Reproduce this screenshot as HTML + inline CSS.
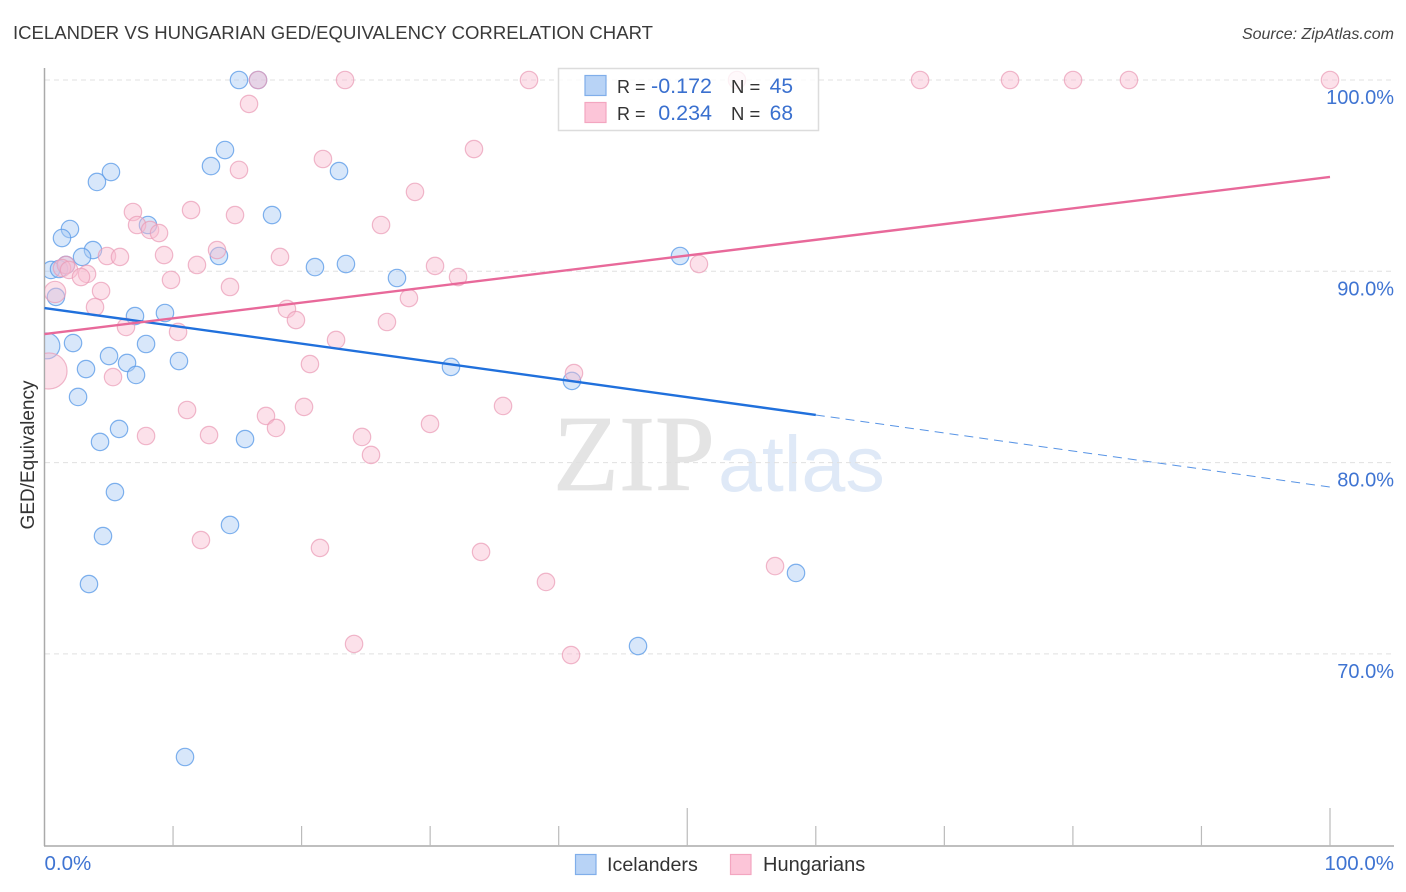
<!DOCTYPE html>
<html lang="en">
<head>
<meta charset="utf-8">
<title>Icelander vs Hungarian GED/Equivalency Correlation Chart</title>
<style>
html,body{margin:0;padding:0;background:#fff;}
#chart{display:block;width:1406px;height:892px;font-family:"Liberation Sans",sans-serif;}
</style>
</head>
<body>
<svg id="chart" xmlns="http://www.w3.org/2000/svg" width="1406" height="892" viewBox="0 0 1406 892">
  <defs><clipPath id="plot-clip"><rect x="45" y="60" width="1349" height="786"/></clipPath></defs>
  <text x="13" y="39" font-size="18.5" fill="#3a3a3a" textLength="640" lengthAdjust="spacingAndGlyphs">ICELANDER VS HUNGARIAN GED/EQUIVALENCY CORRELATION CHART</text>
  <text x="1394" y="39" font-size="16" font-style="italic" fill="#444" text-anchor="end">Source: ZipAtlas.com</text>

  <g>
    <text x="553" y="490" font-family="'Liberation Serif',serif" font-size="108" fill="#e4e4e4" stroke="#e4e4e4" stroke-width="0.8">ZIP</text>
    <text x="718" y="491" font-family="'Liberation Sans',sans-serif" font-size="79" fill="#dfe9f7">atlas</text>
  </g>

  <g id="grid"></g>
  <g id="axes"></g>
  <g id="points" clip-path="url(#plot-clip)"></g>
  <g id="trends"></g>
  <g id="labels"></g>

  <text transform="translate(34,455) rotate(-90)" font-size="19" fill="#333" text-anchor="middle">GED/Equivalency</text>

  <g>
    <rect x="558.5" y="68.5" width="260" height="62" fill="#fff" fill-opacity="0.8" stroke="#dcdcdc" stroke-width="1.5"/>
    <rect x="585" y="75.5" width="21" height="20" fill="#b8d3f6" stroke="#80aeea" stroke-width="1.2"/>
    <rect x="585" y="102.5" width="21" height="20" fill="#fcc5d8" stroke="#f3a6c0" stroke-width="1.2"/>
    <text x="617" y="93" font-size="18" fill="#333">R =</text>
    <text x="712" y="93" font-size="21.5" fill="#3a70cf" text-anchor="end">-0.172</text>
    <text x="731" y="93" font-size="18.5" fill="#333">N =</text>
    <text x="793" y="93" font-size="21" fill="#3a70cf" text-anchor="end">45</text>
    <text x="617" y="120" font-size="18" fill="#333">R =</text>
    <text x="712" y="120" font-size="21.5" fill="#3a70cf" text-anchor="end">0.234</text>
    <text x="731" y="120" font-size="18.5" fill="#333">N =</text>
    <text x="793" y="120" font-size="21" fill="#3a70cf" text-anchor="end">68</text>
  </g>

  <g>
    <g>
      <rect x="575.5" y="854.5" width="20.5" height="20" fill="#b8d3f6" stroke="#80aeea" stroke-width="1.2"/>
      <text x="607" y="871" font-size="19.7" fill="#333">Icelanders</text>
    </g>
    <g>
      <rect x="730.5" y="854.5" width="20.5" height="20" fill="#fcc5d8" stroke="#f3a6c0" stroke-width="1.2"/>
      <text x="763" y="871" font-size="20" fill="#333">Hungarians</text>
    </g>
  </g>
</svg>
<script>
const yTickValues = [100, 90, 80, 70];
const yTickLabels = ["100.0%", "90.0%", "80.0%", "70.0%"];
const xTickValues = [0, 10, 20, 30, 40, 50, 60, 70, 80, 90, 100];
const xEndLabels = ["0.0%", "100.0%"];
const xEndValues = [0, 100];

const icelanderX = [15.13,16.61,14.04,12.95,5.17,4.08,22.91,17.70,8.05,1.98,1.36,3.77,2.92,13.57,23.45,21.04,0.51,1.13,1.67,27.42,49.44,0.89,7.04,9.37,7.90,2.22,0.19,5.02,10.46,6.42,3.23,7.12,31.62,41.03,2.61,5.80,4.32,15.60,5.48,14.43,4.55,3.46,58.46,46.17,10.93];
const icelanderY = [100,100,96.34,95.50,95.19,94.67,95.24,92.94,92.42,92.21,91.74,91.11,90.75,90.80,90.38,90.22,90.07,90.12,90.33,89.65,90.80,88.66,87.66,87.82,86.20,86.25,86.10,85.57,85.31,85.21,84.89,84.58,85.00,84.27,83.43,81.76,81.08,81.23,78.46,76.74,76.16,73.65,74.23,70.41,64.61];
const icelanderWeight = [1,1,1,1,1,1,1,1,1,1,1,1,1,1,1,1,1,1,1,1,1,1,1,1,1,1,2.2,1,1,1,1,1,1,1,1,1,1,1,1,1,1,1,1,1,1];

const hungarianX = [16.61,23.38,37.69,53.87,68.11,75.11,80.01,84.36,100,15.91,33.41,21.66,15.13,28.82,11.40,6.88,14.82,26.18,7.20,8.21,8.91,13.42,9.30,4.86,5.87,18.32,11.86,1.67,1.36,30.38,1.91,3.31,2.84,9.84,32.17,50.91,14.43,4.40,0.82,28.35,3.93,18.86,19.56,26.64,6.34,10.39,22.68,20.65,41.19,5.33,0.35,35.67,11.09,20.19,17.23,29.99,18.01,12.80,7.90,24.70,25.40,12.17,21.43,33.96,56.83,39.01,24.08,40.96];
const hungarianY = [100,100,100,100,100,100,100,100,100,98.75,96.39,95.87,95.30,94.15,93.20,93.10,92.94,92.42,92.42,92.16,92.00,91.11,90.85,90.80,90.75,90.75,90.33,90.33,90.17,90.28,90.07,89.86,89.70,89.55,89.70,90.38,89.18,88.97,88.92,88.60,88.13,88.03,87.45,87.35,87.09,86.83,86.41,85.15,84.68,84.47,84.79,82.96,82.75,82.91,82.44,82.02,81.81,81.44,81.39,81.34,80.40,75.95,75.54,75.33,74.59,73.76,70.52,69.94];
const hungarianWeight = [1,1,1,1,1,1,1,1,1,1,1,1,1,1,1,1,1,1,1,1,1,1,1,1,1,1,1,1,1,1,1,1,1,1,1,1,1,1,1.5,1,1,1,1,1,1,1,1,1,1,1,4.3,1,1,1,1,1,1,1,1,1,1,1,1,1,1,1,1,1];

const icelanderTrendX = [0, 60];
const icelanderTrendY = [88.08, 82.49];
const icelanderDashX = [60, 100];
const icelanderDashY = [82.49, 78.72];
const hungarianTrendX = [0, 100];
const hungarianTrendY = [86.72, 94.93];

const SVG_NS = "http://www.w3.org/2000/svg";
const xScale = v => 44.5 + v * 12.855;
const yScale = v => 80 + (100 - v) * 19.13;
const X_RIGHT = 1394, Y_BOTTOM = 846, Y_TOP = 68;

function make(tag, parentId, attrs) {
  const el = document.createElementNS(SVG_NS, tag);
  for (const k in attrs) el.setAttribute(k, attrs[k]);
  document.getElementById(parentId).appendChild(el);
  return el;
}

yTickValues.forEach((v, i) => {
  const line = make("line", "grid", {x1: 45, x2: X_RIGHT, y1: yScale(v), y2: yScale(v), stroke: "#e0e0e0", "stroke-width": 1, "stroke-dasharray": "5 4"});
  
  
  const label = make("text", "labels", {x: X_RIGHT, y: yScale(v) + 24, "font-size": 20, fill: "#3f74d2", "text-anchor": "end"});
  label.textContent = yTickLabels[i];
  
  
});

const yAxis = make("line", "axes", {x1: 44.5, x2: 44.5, y1: Y_TOP, y2: Y_BOTTOM, stroke: "#aaa", "stroke-width": 1.5});


const xAxis = make("line", "axes", {x1: 44, x2: X_RIGHT, y1: Y_BOTTOM, y2: Y_BOTTOM, stroke: "#aaa", "stroke-width": 1.5});



xTickValues.forEach(v => {
  if (v === 0) return;
  const top = v % 50 === 0 ? 808 : 826;
  const tick = make("line", "axes", {x1: xScale(v), x2: xScale(v), y1: top, y2: Y_BOTTOM, stroke: "#bbb", "stroke-width": 1.2});
  
  
});

xEndLabels.forEach((txt, i) => {
  const isLast = i === xEndLabels.length - 1;
  const label = make("text", "labels", {x: isLast ? X_RIGHT : xScale(xEndValues[i]), y: 870, "font-size": 20.5, fill: "#3f74d2", "text-anchor": isLast ? "end" : "start"});
  label.textContent = txt;
  
  
});

icelanderX.forEach((x, i) => {
  const dot = make("circle", "points", {cx: xScale(x), cy: yScale(icelanderY[i]), r: 8.7 * Math.sqrt(icelanderWeight[i]), fill: "#a9caf3", "fill-opacity": 0.45, stroke: "#5f9de8", "stroke-opacity": 0.8, "stroke-width": 1.2});
  
  
});
hungarianX.forEach((x, i) => {
  const dot = make("circle", "points", {cx: xScale(x), cy: yScale(hungarianY[i]), r: 8.7 * Math.sqrt(hungarianWeight[i]), fill: "#f9bdd1", "fill-opacity": 0.45, stroke: "#ea9ab5", "stroke-opacity": 0.7, "stroke-width": 1.2});
  
  
});

const trendA = make("line", "trends", {x1: xScale(icelanderTrendX[0]), y1: yScale(icelanderTrendY[0]), x2: xScale(icelanderTrendX[1]), y2: yScale(icelanderTrendY[1]), stroke: "#2070dc", "stroke-width": 2.4});


const trendDash = make("line", "trends", {x1: xScale(icelanderDashX[0]), y1: yScale(icelanderDashY[0]), x2: xScale(icelanderDashX[1]), y2: yScale(icelanderDashY[1]), stroke: "#2070dc", "stroke-opacity": 0.75, "stroke-width": 1, "stroke-dasharray": "9 6"});


const trendB = make("line", "trends", {x1: xScale(hungarianTrendX[0]), y1: yScale(hungarianTrendY[0]), x2: xScale(hungarianTrendX[1]), y2: yScale(hungarianTrendY[1]), stroke: "#e8699a", "stroke-width": 2.4});


</script>
</body>
</html>
